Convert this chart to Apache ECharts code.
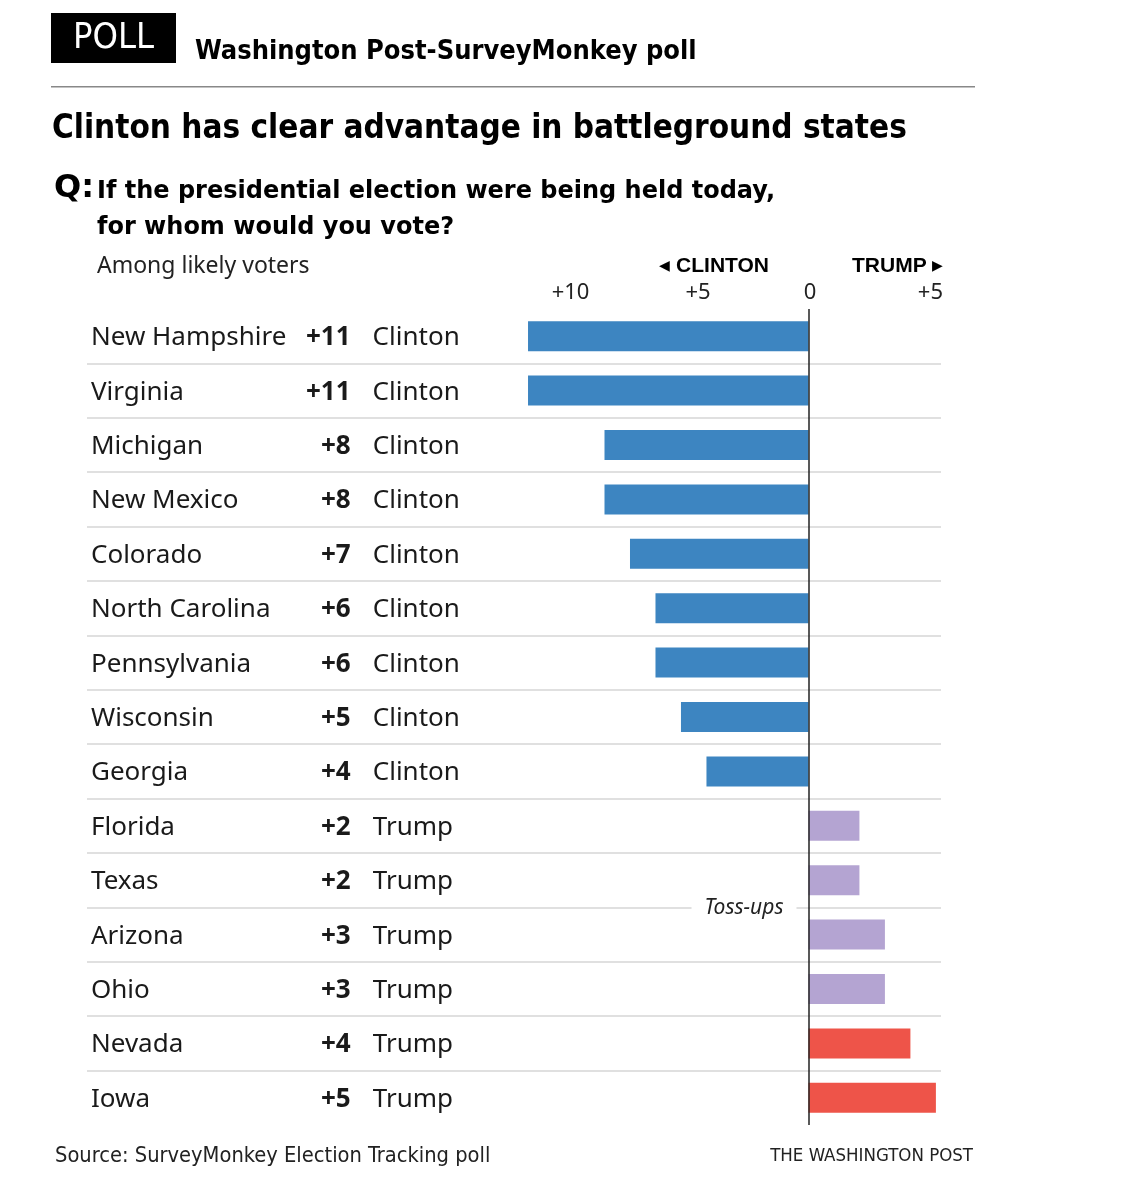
<!DOCTYPE html>
<html>
<head>
<meta charset="utf-8">
<script src="https://cdn.jsdelivr.net/npm/echarts@6/dist/echarts.min.js"></script>
<style>
  html, body { margin: 0; padding: 0; background: #fff; }
  #chart { width: 1123px; height: 1200px; }
</style>
</head>
<body>
<div id="chart"></div>
<script>
// ---- data ----
const states = ['New Hampshire', 'Virginia', 'Michigan', 'New Mexico', 'Colorado', 'North Carolina',
  'Pennsylvania', 'Wisconsin', 'Georgia', 'Florida', 'Texas', 'Arizona', 'Ohio', 'Nevada', 'Iowa'];
const margins = [11, 11, 8, 8, 7, 6, 6, 5, 4, 2, 2, 3, 3, 4, 5];
const leaders = ['Clinton', 'Clinton', 'Clinton', 'Clinton', 'Clinton', 'Clinton', 'Clinton', 'Clinton',
  'Clinton', 'Trump', 'Trump', 'Trump', 'Trump', 'Trump', 'Trump'];
const groups = ['clinton', 'clinton', 'clinton', 'clinton', 'clinton', 'clinton', 'clinton', 'clinton',
  'clinton', 'tossup', 'tossup', 'tossup', 'tossup', 'trump', 'trump'];
const tickValues = [-10, -5, 0, 5];

const groupColors = { clinton: '#3d85c1', tossup: '#b4a4d2', trump: '#ee5449' };
const BODY = '"Noto Sans", "Liberation Sans", sans-serif';
const NARROW = '"DejaVu Sans Condensed", "Liberation Sans", sans-serif';
const HEAVY = '"DejaVu Sans", "Liberation Sans", sans-serif';

const ROW_FONT = 26;
const measureCtx = document.createElement('canvas').getContext('2d');
function textWidth(str, font) { measureCtx.font = font; return measureCtx.measureText(str).width; }

const barData = states.map((s, i) => ({
  value: leaders[i] === 'Clinton' ? -margins[i] : margins[i],
  itemStyle: { color: groupColors[groups[i]] }
}));

const chart = echarts.init(document.getElementById('chart'), null, { renderer: 'canvas' });

chart.setOption({
  backgroundColor: '#fff',
  animation: false,
  grid: { left: 87, right: 182, top: 309, bottom: 75, containLabel: false },
  xAxis: {
    type: 'value',
    position: 'top',
    min: -28.3,
    max: 5.2,
    axisLine: { show: false },
    axisTick: { show: false },
    splitLine: { show: false },
    axisLabel: {
      customValues: tickValues,
      margin: 5,
      color: '#222',
      fontFamily: BODY,
      fontSize: 22,
      formatter: function (v) {
        if (v < 0) return '{l|+' + (-v) + '}';
        if (v === 0) return '{z|0}';
        return '{r|+' + v + '}';
      },
      rich: {
        l: { fontSize: 22, fontFamily: BODY, color: '#222', padding: [0, 0, 0, 34] },
        z: { fontSize: 22, fontFamily: BODY, color: '#222', padding: [0, 0, 0, 3] },
        r: { fontSize: 22, fontFamily: BODY, color: '#222', padding: [0, 11, 0, 0] }
      }
    }
  },
  yAxis: {
    type: 'category',
    inverse: true,
    data: states,
    axisLine: { show: false },
    axisTick: { show: false },
    splitLine: { show: true, showMinLine: false, showMaxLine: false, lineStyle: { color: '#d6d6d6', width: 1.5 } },
    axisLabel: {
      inside: true,
      margin: 4,
      color: '#1a1a1a',
      formatter: function (val, idx) {
        const num = '+' + margins[idx];
        const w = textWidth(num, 'bold ' + ROW_FONT + 'px ' + BODY);
        const nameW = Math.round(260 - w);
        return '{n' + nameW + '|' + val + '}{v|' + num + '}{c|' + leaders[idx] + '}';
      },
      rich: (function () {
        const r = {
          v: { fontSize: ROW_FONT, fontFamily: BODY, fontWeight: 'bold', color: '#1a1a1a', padding: [3, 0, 0, 0] },
          c: { fontSize: ROW_FONT, fontFamily: BODY, color: '#1a1a1a', padding: [3, 0, 0, 22] }
        };
        for (let w = 180; w <= 260; w++) {
          r['n' + w] = { width: w, fontSize: ROW_FONT, fontFamily: BODY, color: '#1a1a1a', padding: [3, 0, 0, 0] };
        }
        return r;
      })()
    }
  },
  series: [{
    type: 'bar',
    data: barData,
    barWidth: 30,
    markLine: {
      silent: true,
      symbol: 'none',
      label: { show: false },
      lineStyle: { color: '#222', width: 1.5, type: 'solid' },
      data: [{ xAxis: 0 }]
    }
  }],
  graphic: [
    { type: 'rect', left: 51, top: 13, shape: { width: 125, height: 50 }, style: { fill: '#000' } },
    { type: 'text', x: 113.5, y: 39, style: { text: 'POLL', fill: '#fff', font: '36px ' + NARROW, textAlign: 'center', textVerticalAlign: 'middle' } },
    { type: 'text', x: 195, y: 52, style: { text: 'Washington Post-SurveyMonkey poll', fill: '#000', font: 'bold 27px ' + NARROW, textVerticalAlign: 'middle' } },
    { type: 'rect', left: 51, top: 86, shape: { width: 924, height: 1.5 }, style: { fill: '#888' } },
    { type: 'text', x: 52, y: 129, style: { text: 'Clinton has clear advantage in battleground states', fill: '#000', font: 'bold 33px ' + NARROW, textVerticalAlign: 'middle' } },
    { type: 'text', x: 54, y: 189, style: { text: 'Q:', fill: '#000', font: 'bold 32px ' + HEAVY, textVerticalAlign: 'middle' } },
    { type: 'text', x: 97, y: 192, style: { text: 'If the presidential election were being held today,', fill: '#000', font: 'bold 24px ' + HEAVY, textVerticalAlign: 'middle' } },
    { type: 'text', x: 97, y: 228, style: { text: 'for whom would you vote?', fill: '#000', font: 'bold 24px ' + HEAVY, textVerticalAlign: 'middle' } },
    { type: 'text', x: 97, y: 266, style: { text: 'Among likely voters', fill: '#222', font: '23px ' + BODY, textVerticalAlign: 'middle' } },
    { type: 'text', x: 769, y: 266, style: { text: '{t|\u25C0} CLINTON', fill: '#000', font: 'bold 21px "Liberation Sans", sans-serif', textAlign: 'right', textVerticalAlign: 'middle',
      rich: { t: { fontSize: 14, fill: '#000' } } } },
    { type: 'text', x: 852, y: 266, style: { text: 'TRUMP {t|\u25B6}', fill: '#000', font: 'bold 21px "Liberation Sans", sans-serif', textVerticalAlign: 'middle',
      rich: { t: { fontSize: 14, fill: '#000' } } } },
    { type: 'text', x: 744, y: 908, z: 100, style: { text: 'Toss-ups', fill: '#222', font: 'italic 21px ' + BODY, textAlign: 'center', textVerticalAlign: 'middle', backgroundColor: '#fff', padding: [2, 13, 2, 13] } },
    { type: 'text', x: 55, y: 1156, style: { text: 'Source: SurveyMonkey Election Tracking poll', fill: '#222', font: '21.7px ' + NARROW, textVerticalAlign: 'middle' } },
    { type: 'text', x: 973, y: 1156, style: { text: 'THE WASHINGTON POST', fill: '#222', font: '18.5px ' + NARROW, textAlign: 'right', textVerticalAlign: 'middle' } }
  ]
});
</script>
</body>
</html>
